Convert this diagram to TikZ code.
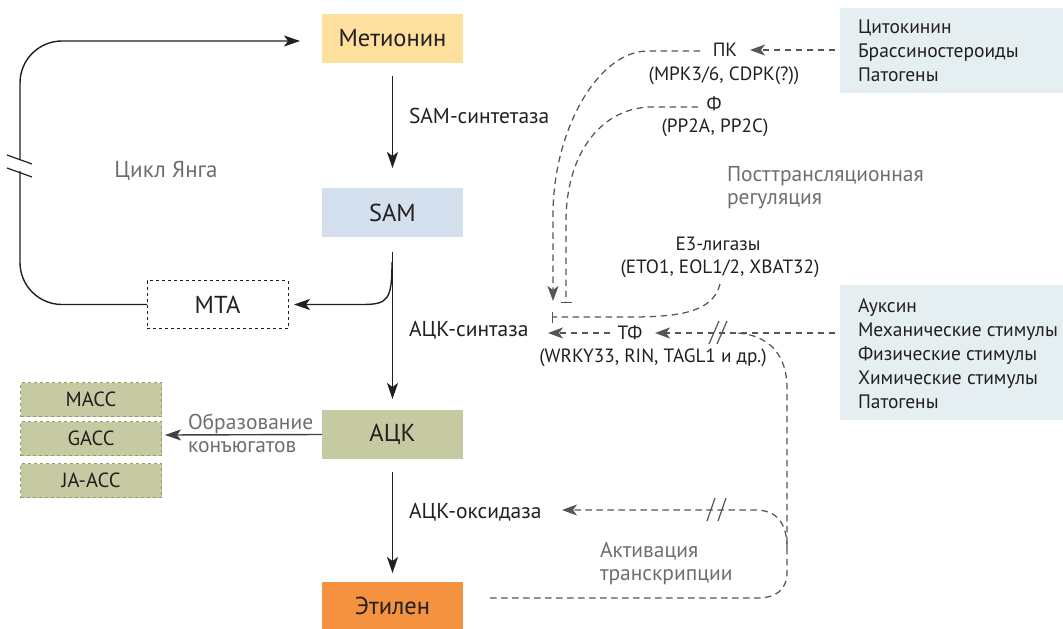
\documentclass[tikz,border=0pt]{standalone}
\usepackage{fontspec}
\setmainfont{PT Sans}
\usetikzlibrary{arrows.meta}
\definecolor{cMet}{HTML}{FDDF9E}
\definecolor{cSam}{HTML}{D3DFEC}
\definecolor{cAck}{HTML}{C5CAA3}
\definecolor{cEth}{HTML}{F49240}
\definecolor{cRbox}{HTML}{E5EEF1}
\definecolor{cGreen}{HTML}{8BA65A}
\definecolor{cGray}{HTML}{6D6E71}
\definecolor{cDash}{HTML}{545557}
\definecolor{cInk}{HTML}{231F20}
\definecolor{cConj}{HTML}{414042}
\begin{document}
\begin{tikzpicture}[x=1pt,y=-1pt,
  every node/.style={inner sep=0pt,outer sep=0pt,text=cInk},
  mainbox/.style={minimum width=141pt,minimum height=49pt,font=\fontsize{24.5}{28}\selectfont},
  lbl/.style={font=\fontsize{19.2}{24}\selectfont},
  plbl/.style={font=\fontsize{21.5}{24}\selectfont},
  glbl/.style={font=\fontsize{21.5}{23}\selectfont,text=cGray,align=left},
  conjbox/.style={draw=cGreen,dashed,fill=cAck,line width=0.9pt,minimum width=141pt,minimum height=34pt,font=\fontsize{20.5}{24}\selectfont},
  srcbox/.style={fill=cRbox,anchor=north west,minimum width=223pt},
  srctext/.style={anchor=west,align=left,font=\fontsize{19.5}{24}\selectfont},
  blkline/.style={draw=cInk,line width=1.4pt},
  blk/.style={blkline,-{Stealth[length=16pt,width=11pt,inset=4pt]}},
  dsh/.style={draw=cDash,line width=1.25pt,dash pattern=on 6.5pt off 4.5pt},
  dtip/.style={-{Stealth[length=15pt,width=11pt,inset=4pt]}},
  btip/.style={-{Bar[width=11pt,line width=1.2pt]}},
  brk/.style={draw=cDash,line width=1.2pt},
]
\useasboundingbox (0,0) rectangle (1063,629);

% main boxes
\node[mainbox,fill=cMet] (met) at (392.5,38.5) {Метионин};
\node[mainbox,fill=cSam] (sam) at (392.5,212.5) {SAM};
\node[mainbox,fill=cAck] (ack) at (392.5,434.5) {АЦК};
\node[mainbox,fill=cEth,minimum height=47pt] (eth) at (392.5,605.5) {Этилен};
\node[mainbox,draw=cInk,dashed,line width=1pt,minimum height=48pt] (mta) at (217.5,304.5) {MTA};

% conjugate boxes
\node[conjbox] (macc) at (91,399.5) {MACC};
\node[conjbox] (gacc) at (91,438.5) {GACC};
\node[conjbox] (jaacc) at (91,480.5) {JA-ACC};

% main pathway arrows
\draw[blk] ([yshift=-12.5pt]met.south) -- ([yshift=20pt]sam.north);
\draw[blk] ([yshift=-15pt]sam.south) -- ([yshift=11pt]ack.north);
\draw[blk] ([yshift=-13pt]ack.south) -- ([yshift=9pt]eth.north);
\node[plbl,anchor=west] (l1) at (409,116) {SAM-синтетаза};
\node[plbl,anchor=west] (l2) at (409,330) {АЦК-синтаза};
\node[plbl,anchor=west] (l3) at (409,512) {АЦК-оксидаза};

% SAM -> MTA
\coordinate (brS) at (392,262);
\draw[blk] (brS) .. controls (392,300) and (388,304.5) .. (362,304.5) -- ([xshift=6pt]mta.east);

% Yang cycle
\coordinate (yB) at (20,171);
\coordinate (yT) at (20,160);
\coordinate (yTip) at (300,41);
\draw[blkline,rounded corners=42pt] (mta.west) -| (yB);
\draw[blk,rounded corners=42pt] (yT) |- (yTip);
\draw[blkline,line width=1.2pt] (7,155) -- (32,164) (7,168) -- (32,177);
\node[glbl,font=\fontsize{23}{26}\selectfont] (yang) at (166,171) {Цикл Янга};

% conjugation
\draw[draw=cConj,line width=1.4pt,-{Stealth[length=16pt,width=11pt,inset=4pt]}] (ack.west) -- (165,435);
\node[glbl,anchor=west] (conj) at (188,433) {Образование\\конъюгатов};

% right source boxes
\node[srcbox,minimum height=85pt] (src1) at (840,8) {};
\node[srctext] (src1t) at (858,51) {Цитокинин\\Брассиностероиды\\Патогены};
\node[srcbox,minimum height=135pt] (src2) at (840,285) {};
\node[srctext] (src2t) at (858,354) {Ауксин\\Механические стимулы\\Физические стимулы\\Химические стимулы\\Патогены};

% regulators
\node[lbl] (pk) at (725,50) {ПК};
\node[lbl] (pksub) at (724,76) {(MPK3/6, CDPK(?))};
\node[lbl] (ph) at (714,104) {Ф};
\node[lbl] (phsub) at (715,128) {(PP2A, PP2C)};
\node[glbl,anchor=west] (ptr) at (727,188) {Посттрансляционная\\регуляция};
\node[lbl] (e3) at (718,244) {E3-лигазы};
\node[lbl] (e3sub) at (720,269) {(ETO1, EOL1/2, XBAT32)};
\node[lbl] (tf) at (630,333) {ТФ};
\node[lbl] (tfsub) at (653,358) {(WRKY33, RIN, TAGL1 и др.)};
\node[glbl,anchor=west] (act) at (600,564) {Активация\\транскрипции};

% dashed regulation paths
\coordinate (pkIn) at (835,50);
\coordinate (pkTip) at (750,50);
\draw[dsh,dtip] (pkIn) -- (pkTip);

\coordinate (pkS) at (700,51);
\coordinate (pkE) at (553,301);
\draw[dsh,dtip] (pkS) -- (648,51) .. controls (598,51) and (553,130) .. (553,215) -- (pkE);

\coordinate (phS) at (698,107);
\coordinate (phE) at (566,303);
\draw[dsh,btip] (phS) -- (652,107) .. controls (604,107) and (566,150) .. (566,222) -- (phE);

\coordinate (e3S) at (720,284);
\coordinate (e3E) at (552,317);
\draw[dsh,btip] (e3S) .. controls (713,312) and (680,317) .. (630,317) -- (e3E);

\coordinate (tfL) at (610,333);
\coordinate (tfTip) at (548,333);
\draw[dsh,dtip] (tfL) -- (tfTip);

\coordinate (tfIn) at (835,333);
\coordinate (tfTipR) at (655,333);
\draw[dsh,dtip] (tfIn) -- (tfTipR);
\draw[brk] (709,344) -- (719,321) (717,344) -- (727,321);

% ethylene feedback loop
\coordinate (ethS) at (490,598);
\coordinate (loopTop) at (737,333);
\draw[dsh] (ethS) -- (757,598) .. controls (776,598) and (787,590) .. (787,572) -- (787,388) .. controls (787,356) and (770,335) .. (loopTop);

\coordinate (oxS) at (787,548);
\coordinate (oxTip) at (562,510);
\draw[dsh,dtip] (oxS) .. controls (787,522) and (776,510) .. (755,510) -- (oxTip);
\draw[brk] (707,521) -- (715,498) (718,521) -- (726,498);
\end{tikzpicture}
\end{document}
